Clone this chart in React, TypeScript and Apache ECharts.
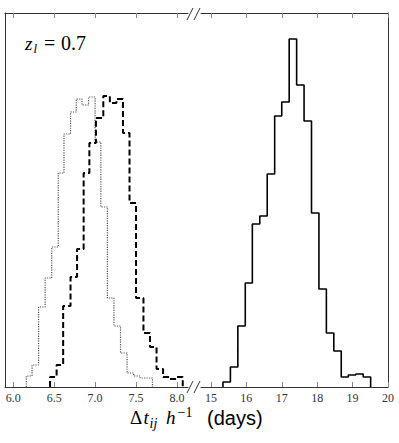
import React, { useEffect, useRef } from "react";
import * as echarts from "echarts";

// Bin edges and counts (three histograms)
const dottedEdges = [6.16, 6.23, 6.31, 6.39, 6.47, 6.55, 6.62, 6.70, 6.77, 6.84, 6.92, 7.00, 7.07, 7.15, 7.23, 7.31, 7.39, 7.47, 7.55, 7.63, 7.70];
const dottedCounts = [11, 22, 80, 109, 140, 214, 253, 275, 288, 282, 290, 245, 180, 89, 61, 34, 14, 11, 9, 9];

const dashedEdges = [6.45, 6.53, 6.61, 6.70, 6.78, 6.86, 6.93, 7.01, 7.10, 7.18, 7.26, 7.34, 7.42, 7.50, 7.59, 7.67, 7.75, 7.83, 7.91, 7.99, 8.07];
const dashedCounts = [10, 22, 81, 110, 138, 214, 244, 269, 291, 284, 288, 254, 184, 89, 54, 40, 18, 10, 8, 10];

const solidEdges = [15.34, 15.55, 15.76, 15.97, 16.17, 16.38, 16.59, 16.80, 17.00, 17.21, 17.42, 17.63, 17.84, 18.05, 18.26, 18.47, 18.68, 18.88, 19.09, 19.30, 19.51];
const solidCounts = [5, 20, 61, 104, 163, 171, 213, 271, 285, 348, 302, 266, 174, 98, 54, 36, 10, 12, 13, 10];

const leftTicks = [6.0, 6.5, 7.0, 7.5, 8.0];
const rightTicks = [15, 16, 17, 18, 19, 20];

function stepPoints(edges: number[], counts: number[]) {
  const pts: number[][] = [[edges[0], 0]];
  counts.forEach((c, i) => {
    pts.push([edges[i], c]);
    pts.push([edges[i + 1], c]);
  });
  pts.push([edges[edges.length - 1], 0]);
  return pts;
}

const SERIF = "Liberation Serif";
const SANS = "Liberation Sans";
const LINE = "#333";
const TICK = "#888";

function xAxisDef(grid: number, min: number, max: number, pos: "top" | "bottom", ticks: number[], labels: boolean, digits: number) {
  return {
    type: "value",
    gridIndex: grid,
    position: pos,
    min,
    max,
    splitLine: { show: false },
    axisLine: { show: true, onZero: false, lineStyle: { color: LINE, width: 1 } },
    axisTick: { show: true, inside: true, length: 5, customValues: ticks, lineStyle: { color: TICK, width: 1 } },
    axisLabel: {
      show: labels,
      customValues: ticks,
      margin: 5,
      color: "#333",
      fontFamily: SERIF,
      fontSize: 12,
      formatter: (v: number) => v.toFixed(digits),
    },
  };
}

function yAxisDef(grid: number, pos: "left" | "right") {
  return {
    type: "value",
    gridIndex: grid,
    position: pos,
    min: 0,
    max: 374,
    splitLine: { show: false },
    axisLine: { show: true, onZero: false, lineStyle: { color: LINE, width: 1 } },
    axisTick: { show: false },
    axisLabel: { show: false },
  };
}

function txt(text: string, x: number, y: number, size: number, opts: any = {}) {
  return {
    type: "text",
    x,
    y,
    silent: true,
    style: {
      text,
      fill: "#000",
      fontFamily: opts.family || SERIF,
      fontSize: size,
      fontStyle: opts.italic ? "italic" : "normal",
      align: "left",
      verticalAlign: "middle",
    },
  };
}

function slash(x: number, y: number) {
  return {
    type: "line",
    silent: true,
    shape: { x1: x, y1: y + 6, x2: x + 6, y2: y - 6 },
    style: { stroke: LINE, lineWidth: 1 },
  };
}

export default function App() {
  const ref = useRef<HTMLDivElement>(null);
  useEffect(() => {
    document.body.style.margin = "0";
    if (!ref.current) return;
    const chart = echarts.init(ref.current, null, { renderer: "svg" });
    chart.setOption({
      animation: false,
      backgroundColor: "#fff",
      grid: [
        { left: 5, top: 13, width: 183, height: 374 },
        { left: 201, top: 13, width: 187, height: 374 },
      ],
      xAxis: [
        xAxisDef(0, 5.9, 8.134, "bottom", leftTicks, true, 1),
        xAxisDef(0, 5.9, 8.134, "top", leftTicks, false, 1),
        xAxisDef(1, 14.72, 20, "bottom", rightTicks, true, 0),
        xAxisDef(1, 14.72, 20, "top", rightTicks, false, 0),
      ],
      yAxis: [yAxisDef(0, "left"), yAxisDef(1, "right")],
      series: [
        {
          type: "line",
          xAxisIndex: 0,
          yAxisIndex: 0,
          data: stepPoints(dottedEdges, dottedCounts),
          showSymbol: false,
          lineStyle: { color: "#555", width: 1.2, type: "dotted" },
        },
        {
          type: "line",
          xAxisIndex: 0,
          yAxisIndex: 0,
          data: stepPoints(dashedEdges, dashedCounts),
          showSymbol: false,
          lineStyle: { color: "#000", width: 2, type: [6, 3] },
        },
        {
          type: "line",
          xAxisIndex: 2,
          yAxisIndex: 1,
          data: stepPoints(solidEdges, solidCounts),
          showSymbol: false,
          lineStyle: { color: "#000", width: 1.6 },
        },
      ],
      graphic: [
        slash(187, 14),
        slash(194, 14),
        slash(187, 387),
        slash(194, 387),
        txt("z", 25, 43, 19, { italic: true }),
        txt("l", 33.5, 48, 13, { italic: true }),
        txt("=", 44, 43, 20),
        txt("0.7", 61, 43, 20),
        txt("Δ", 130, 417.5, 19),
        txt("t", 143.5, 417.5, 19, { italic: true }),
        txt("ij", 149.5, 423, 14, { italic: true }),
        txt("h", 166, 417.5, 19, { italic: true }),
        txt("−1", 177.5, 412, 14),
        txt("(days)", 207, 417.5, 20, { family: SANS }),
      ],
    });
    return () => chart.dispose();
  }, []);
  return <div ref={ref} style={{ width: 399, height: 443 }} />;
}
